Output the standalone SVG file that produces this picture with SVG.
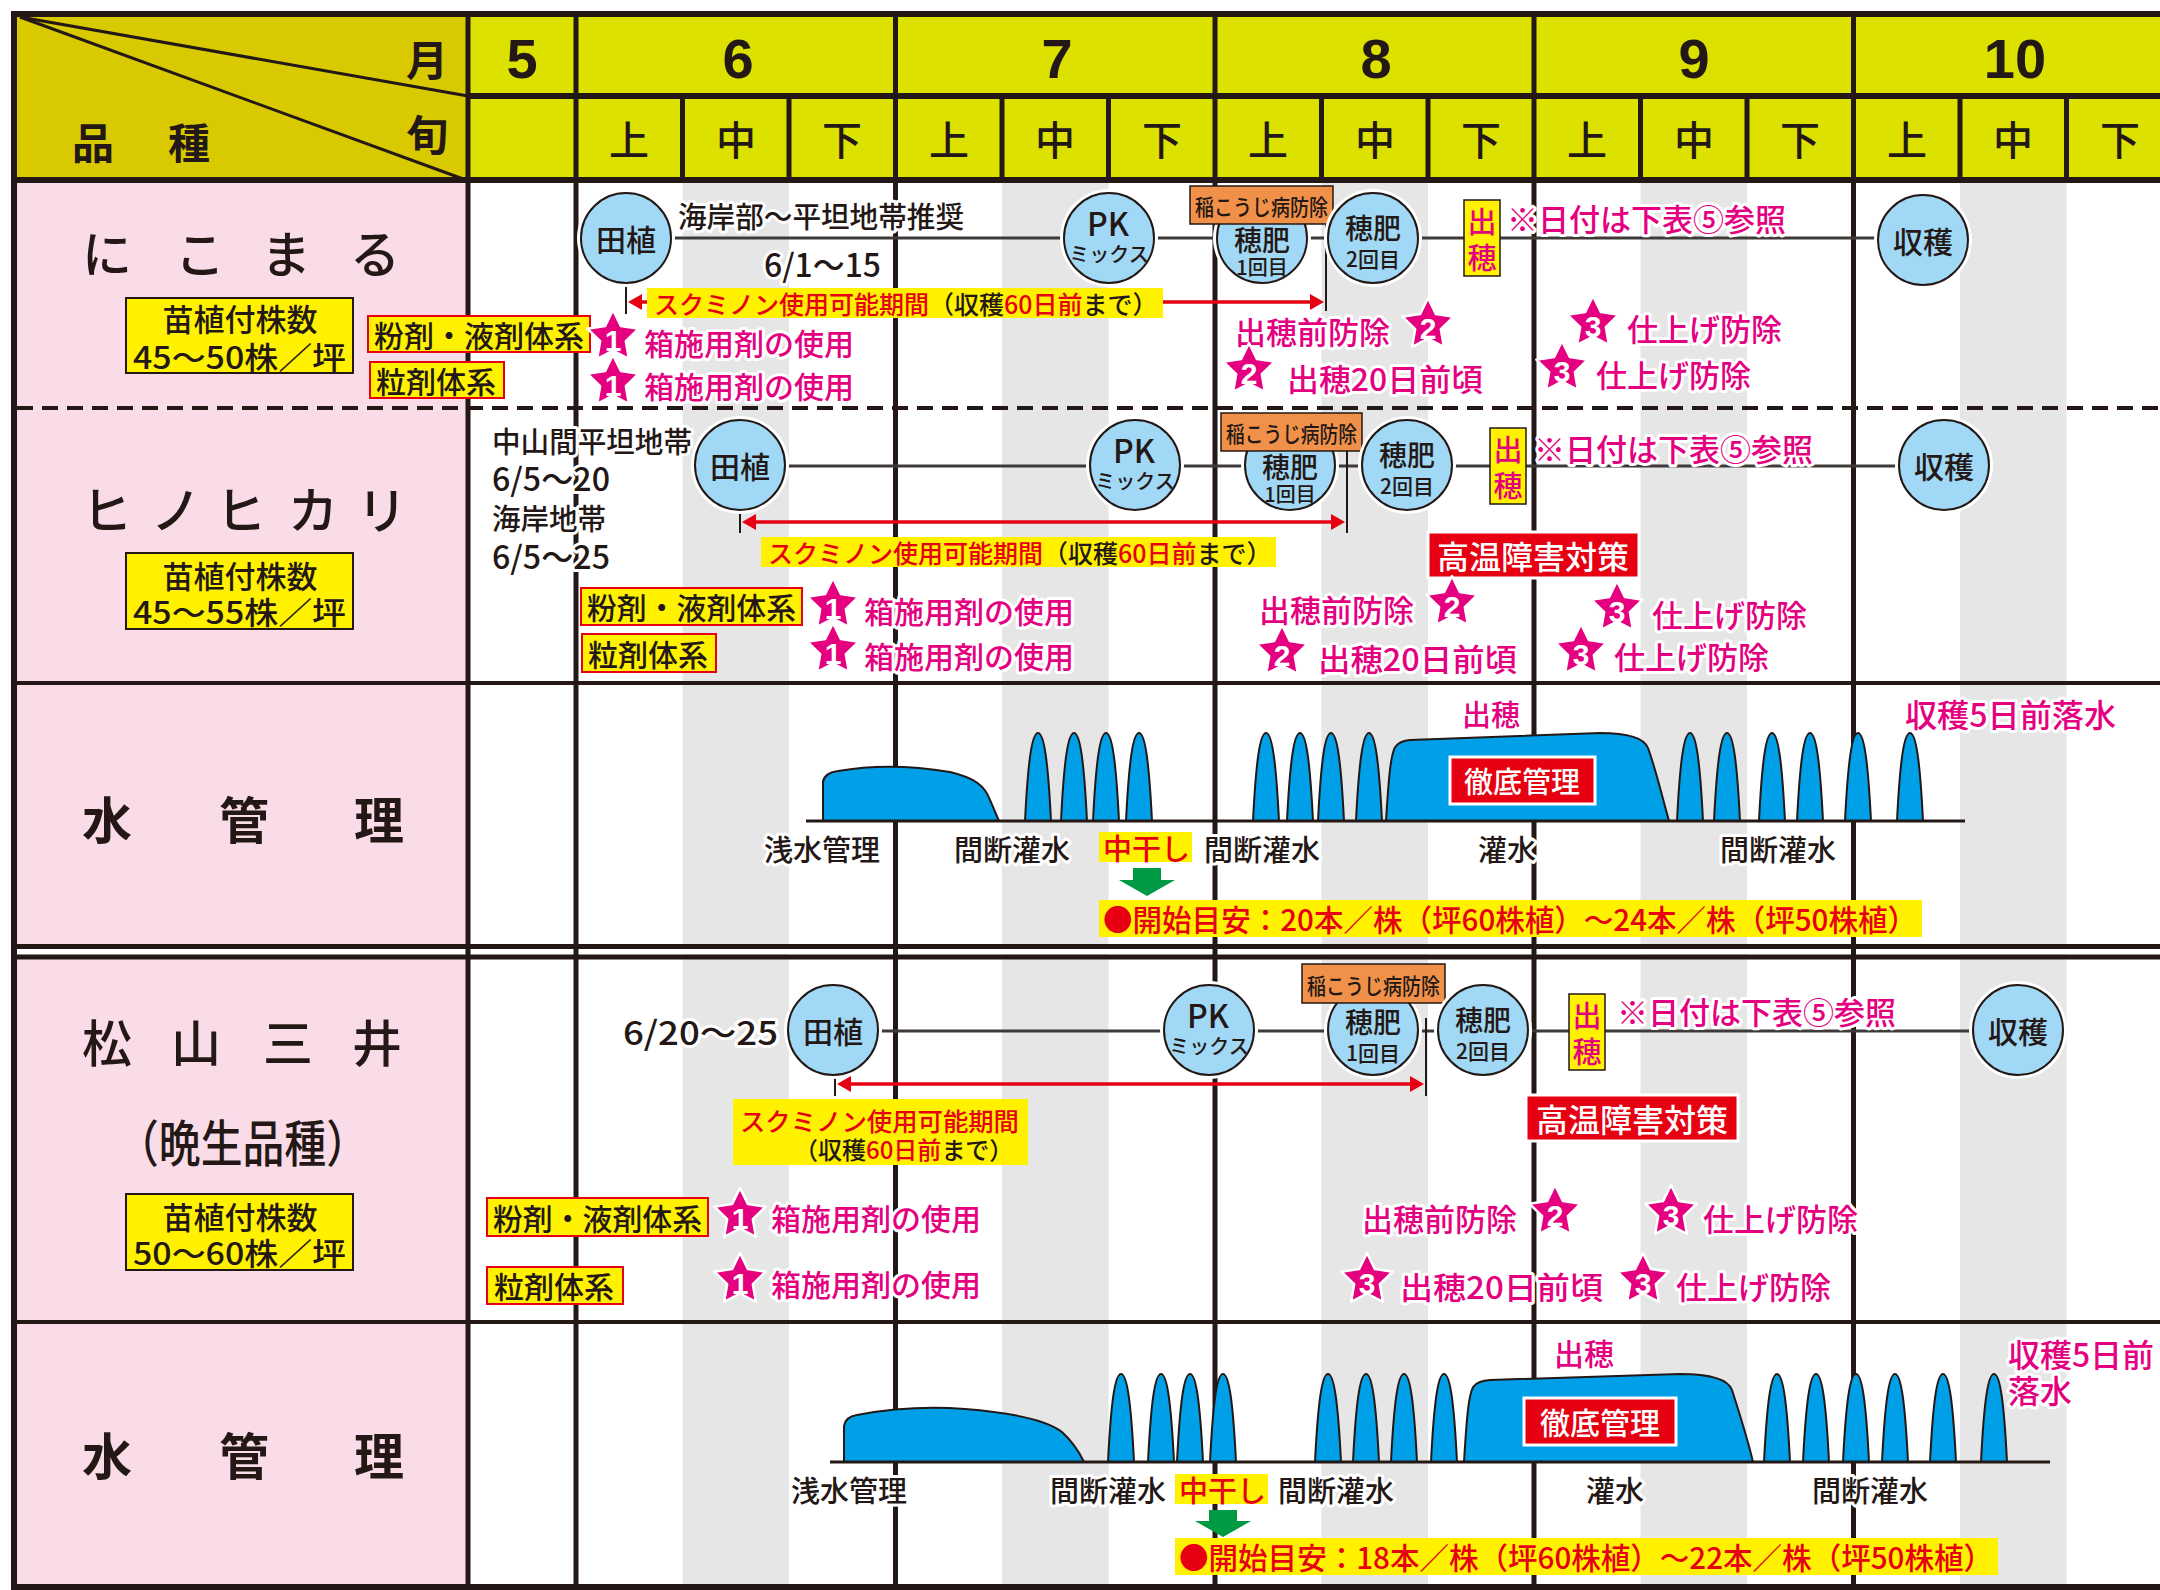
<svg xmlns="http://www.w3.org/2000/svg" xmlns:xlink="http://www.w3.org/1999/xlink" width="2160" height="1590" viewBox="0 0 2160 1590">
<style>
text{font-family:"Noto Sans CJK JP","Noto Sans",sans-serif;dominant-baseline:central;}
.k{fill:#231815;font-weight:500;}
.m{fill:#E4007F;font-weight:500;}
.h{stroke:#fff;stroke-width:6;stroke-linejoin:round;paint-order:stroke;}
.c{text-anchor:middle;}
.ttl{font-size:50px;fill:#231815;text-anchor:middle;font-weight:500;}
.ttb{font-size:50px;fill:#231815;text-anchor:middle;font-weight:700;}
.mon{font-family:"Liberation Sans",Arial,sans-serif;font-size:56px;font-weight:700;fill:#231815;text-anchor:middle;}
.jun{font-size:40px;font-weight:500;fill:#231815;text-anchor:middle;}
.ell{fill:#A0D8F5;stroke:#231815;stroke-width:2;}
.eh{fill:#fff;}
.yb{fill:#FFF100;stroke:#231815;stroke-width:2;}
.yr{fill:#FFF100;stroke:#E60012;stroke-width:2;}
.y{fill:#FFF100;}
.ob{fill:#F19149;stroke:#231815;stroke-width:1.5;}
.rb{fill:#E60012;stroke:#fff;stroke-width:3;}
.wt{fill:#00A0E9;stroke:#231815;stroke-width:2;}
.tl{stroke:#3E3A39;stroke-width:3;fill:none;}
.ar{stroke:#E60012;stroke-width:3.5;fill:none;}
.ah{fill:#E60012;}
.mk{stroke:#231815;stroke-width:2;fill:none;}
.g{fill:#231815;}
.gb{fill:#E6E6E6;}
.num{font-family:"Liberation Sans",Arial,sans-serif;font-size:30px;font-weight:700;fill:#fff;text-anchor:middle;}
.gr{fill:#009944;}
</style>
<defs>
<path id="star" d="M0,-27 L7.94,-10.92 L25.68,-8.34 L12.84,4.17 L15.87,21.84 L0,13.5 L-15.87,21.84 L-12.84,4.17 L-25.68,-8.34 L-7.94,-10.92 Z" fill="#E4007F" stroke="#fff" stroke-width="2.5" stroke-linejoin="round"/>
<path id="spk" class="wt" d="M-13,0 C-10,-60 -6,-88 0,-88 C6,-88 10,-60 13,0 Z"/>
</defs>

<g id="background">
<rect x="0" y="0" width="2160" height="1590" fill="#fff"/>
<rect x="14" y="14" width="454" height="166" fill="#D9C900"/>
<rect x="468" y="14" width="1692" height="166" fill="#DDE100"/>
<rect x="14" y="180" width="454" height="1410" fill="#FADCE9"/>
<rect class="gb" x="682.5" y="180" width="106.5" height="1410"/>
<rect class="gb" x="1002" y="180" width="106.5" height="1410"/>
<rect class="gb" x="1321.5" y="180" width="106.5" height="1410"/>
<rect class="gb" x="1640.5" y="180" width="106.5" height="1410"/>
<rect class="gb" x="1960" y="180" width="106.5" height="1410"/>
<rect x="14" y="948.5" width="2146" height="6" fill="#fff"/>
</g>

<g id="grid">
<rect class="g" x="11" y="11" width="2149" height="6"/>
<rect class="g" x="11" y="11" width="6" height="1579"/>
<rect class="g" x="466" y="93" width="1694" height="6"/>
<rect class="g" x="11" y="177" width="2149" height="6"/>
<line x1="17" y1="408" x2="2160" y2="408" stroke="#231815" stroke-width="4" stroke-dasharray="16 9"/>
<rect class="g" x="14" y="681" width="2146" height="4"/>
<rect class="g" x="14" y="944" width="2146" height="5"/>
<rect class="g" x="14" y="954.5" width="2146" height="5"/>
<rect class="g" x="14" y="1320" width="2146" height="4"/>
<rect class="g" x="11" y="1584" width="2149" height="6"/>
<rect class="g" x="465.5" y="14" width="5" height="1576"/>
<rect class="g" x="573.5" y="14" width="5" height="1576"/>
<rect class="g" x="893" y="14" width="5" height="1576"/>
<rect class="g" x="1212.5" y="14" width="5" height="1576"/>
<rect class="g" x="1531.5" y="14" width="5" height="1576"/>
<rect class="g" x="1851" y="14" width="5" height="1576"/>
<rect class="g" x="680" y="96" width="5" height="84"/>
<rect class="g" x="786.5" y="96" width="5" height="84"/>
<rect class="g" x="999.5" y="96" width="5" height="84"/>
<rect class="g" x="1106" y="96" width="5" height="84"/>
<rect class="g" x="1319" y="96" width="5" height="84"/>
<rect class="g" x="1425.5" y="96" width="5" height="84"/>
<rect class="g" x="1638" y="96" width="5" height="84"/>
<rect class="g" x="1744.5" y="96" width="5" height="84"/>
<rect class="g" x="1957.5" y="96" width="5" height="84"/>
<rect class="g" x="2064" y="96" width="5" height="84"/>
<line x1="20" y1="17" x2="468" y2="96" stroke="#231815" stroke-width="3"/>
<line x1="20" y1="17" x2="466" y2="180" stroke="#231815" stroke-width="3"/>
</g>

<g id="header">
<text x="427" y="57" font-size="42" font-weight="700" fill="#231815" text-anchor="middle">月</text>
<text x="427" y="132" font-size="42" font-weight="700" fill="#231815" text-anchor="middle">旬</text>
<text x="93" y="140" font-size="42" font-weight="700" fill="#231815" text-anchor="middle">品</text>
<text x="189" y="140" font-size="42" font-weight="700" fill="#231815" text-anchor="middle">種</text>
<text class="mon" x="522" y="58">5</text>
<text class="mon" x="738" y="58">6</text>
<text class="mon" x="1057" y="58">7</text>
<text class="mon" x="1376" y="58">8</text>
<text class="mon" x="1694" y="58">9</text>
<text class="mon" x="2015" y="58">10</text>
<text class="jun" x="629" y="138">上</text><text class="jun" x="736" y="138">中</text><text class="jun" x="842" y="138">下</text>
<text class="jun" x="949" y="138">上</text><text class="jun" x="1055" y="138">中</text><text class="jun" x="1162" y="138">下</text>
<text class="jun" x="1268" y="138">上</text><text class="jun" x="1375" y="138">中</text><text class="jun" x="1481" y="138">下</text>
<text class="jun" x="1587" y="138">上</text><text class="jun" x="1694" y="138">中</text><text class="jun" x="1800" y="138">下</text>
<text class="jun" x="1907" y="138">上</text><text class="jun" x="2013" y="138">中</text><text class="jun" x="2120" y="138">下</text>
</g>

<g id="connectors">
<line class="tl" x1="671" y1="238" x2="1879" y2="238"/>
<line class="tl" x1="785" y1="466" x2="1900" y2="466"/>
<line class="tl" x1="878" y1="1031" x2="1973" y2="1031"/>
<line class="mk" x1="626" y1="283" x2="626" y2="314"/>
<line class="mk" x1="1326" y1="224" x2="1326" y2="311"/>
<line class="mk" x1="740" y1="510" x2="740" y2="533"/>
<line class="mk" x1="1347" y1="451" x2="1347" y2="533"/>
<line class="mk" x1="835" y1="1075" x2="835" y2="1096"/>
<line class="mk" x1="1426" y1="1018" x2="1426" y2="1096"/>
<line class="ar" x1="640" y1="302" x2="1312" y2="302"/>
<polygon class="ah" points="628,302 642,294 642,310"/>
<polygon class="ah" points="1324,302 1310,294 1310,310"/>
<line class="ar" x1="754" y1="522" x2="1333" y2="522"/>
<polygon class="ah" points="742,522 756,514 756,530"/>
<polygon class="ah" points="1345,522 1331,514 1331,530"/>
<line class="ar" x1="849" y1="1084" x2="1412" y2="1084"/>
<polygon class="ah" points="837,1084 851,1076 851,1092"/>
<polygon class="ah" points="1424,1084 1410,1076 1410,1092"/>
</g>

<g id="row-nikomaru">
<text class="ttl" x="107" y="251">に</text><text class="ttl" x="200" y="251">こ</text><text class="ttl" x="286" y="251">ま</text><text class="ttl" x="375" y="251">る</text>
<rect class="yb" x="126" y="298" width="227" height="75"/>
<text class="k c" x="240" y="317" font-size="31">苗植付株数</text>
<text class="k" x="133" y="355" font-size="31" textLength="213" lengthAdjust="spacingAndGlyphs">45～50株／坪</text>
<rect class="yr" x="368" y="316" width="222" height="36"/>
<text class="k" x="374" y="334" font-size="30" textLength="210" lengthAdjust="spacingAndGlyphs">粉剤・液剤体系</text>
<rect class="yr" x="370" y="362" width="134" height="36"/>
<text class="k" x="376" y="380" font-size="30">粒剤体系</text>
<text class="k h" x="678" y="215" font-size="29" textLength="286" lengthAdjust="spacingAndGlyphs">海岸部～平坦地帯推奨</text>
<text class="k h" x="764" y="263" font-size="32" textLength="117" lengthAdjust="spacingAndGlyphs">6/1～15</text>
<rect class="y" x="647" y="288" width="516" height="30"/>
<text x="654" y="303" font-size="25" font-weight="500"><tspan fill="#E60012">スクミノン使用可能期間</tspan><tspan fill="#231815">（収穫</tspan><tspan fill="#E60012">60日前</tspan><tspan fill="#231815">まで）</tspan></text>
<g id="n1-taue"><circle class="eh" cx="626" cy="238" r="49"/><circle class="ell" cx="626" cy="238" r="45"/><text class="k c" x="626" y="238" font-size="30">田植</text></g>
<g id="n1-pk"><circle class="eh" cx="1109" cy="238" r="49"/><circle class="ell" cx="1109" cy="238" r="45"/><text class="k c" x="1108" y="222" font-size="32">PK</text><text class="k c" x="1109" y="253" font-size="20">ミックス</text></g>
<g id="n1-hohi1"><circle class="eh" cx="1262" cy="238" r="49"/><circle class="ell" cx="1262" cy="238" r="45"/><text class="k c" x="1262" y="239" font-size="28">穂肥</text><text class="k c" x="1262" y="266" font-size="20">1回目</text></g>
<g id="n1-inakouji"><rect class="ob" x="1190" y="186" width="143" height="38"/><text class="k" x="1195" y="205" font-size="22" textLength="133" lengthAdjust="spacingAndGlyphs">稲こうじ病防除</text></g>
<g id="n1-hohi2"><circle class="eh" cx="1373" cy="238" r="49"/><circle class="ell" cx="1373" cy="238" r="45"/><text class="k c" x="1373" y="227" font-size="28">穂肥</text><text class="k c" x="1373" y="258" font-size="21">2回目</text></g>
<g id="n1-shusui"><rect class="y" x="1464" y="200" width="36" height="76" stroke="#231815" stroke-width="1.5"/><text class="m c" x="1482" y="220" font-size="29">出</text><text class="m c" x="1482" y="256" font-size="29">穂</text></g>
<text class="m h" x="1507" y="217" font-size="31">※日付は下表⑤参照</text>
<g id="n1-shukaku"><circle class="eh" cx="1923" cy="240" r="49"/><circle class="ell" cx="1923" cy="240" r="45"/><text class="k c" x="1923" y="240" font-size="30">収穫</text></g>
<use href="#star" x="613" y="337"/><text class="num" x="613" y="340">1</text>
<text class="m h" x="644" y="342" font-size="30">箱施用剤の使用</text>
<use href="#star" x="613" y="382"/><text class="num" x="613" y="385">1</text>
<text class="m h" x="644" y="385" font-size="30">箱施用剤の使用</text>
<text class="m h" x="1235" y="330" font-size="31">出穂前防除</text>
<use href="#star" x="1428" y="325"/><text class="num" x="1428" y="328">2</text>
<use href="#star" x="1249" y="370"/><text class="num" x="1249" y="373">2</text>
<text class="m h" x="1287" y="377" font-size="31" textLength="196" lengthAdjust="spacingAndGlyphs">出穂20日前頃</text>
<use href="#star" x="1593" y="323"/><text class="num" x="1593" y="326">3</text>
<text class="m h" x="1627" y="327" font-size="31">仕上げ防除</text>
<use href="#star" x="1562" y="368"/><text class="num" x="1562" y="371">3</text>
<text class="m h" x="1596" y="373" font-size="31">仕上げ防除</text>
</g>

<g id="row-hinohikari">
<text class="ttl" x="107" y="507">ヒ</text><text class="ttl" x="176" y="507">ノ</text><text class="ttl" x="241" y="507">ヒ</text><text class="ttl" x="313" y="507">カ</text><text class="ttl" x="382" y="507">リ</text>
<rect class="yb" x="126" y="553" width="227" height="76"/>
<text class="k c" x="240" y="574" font-size="31">苗植付株数</text>
<text class="k" x="133" y="610" font-size="31" textLength="213" lengthAdjust="spacingAndGlyphs">45～55株／坪</text>
<text class="k h" x="492" y="440" font-size="29" textLength="200" lengthAdjust="spacingAndGlyphs">中山間平坦地帯</text>
<text class="k h" x="492" y="477" font-size="32" textLength="118" lengthAdjust="spacingAndGlyphs">6/5～20</text>
<text class="k h" x="492" y="517" font-size="29" textLength="114" lengthAdjust="spacingAndGlyphs">海岸地帯</text>
<text class="k h" x="492" y="555" font-size="32" textLength="118" lengthAdjust="spacingAndGlyphs">6/5～25</text>
<rect class="yr" x="581" y="588" width="221" height="37"/>
<text class="k" x="587" y="606" font-size="30" textLength="209" lengthAdjust="spacingAndGlyphs">粉剤・液剤体系</text>
<rect class="yr" x="582" y="634" width="134" height="38"/>
<text class="k" x="588" y="653" font-size="30">粒剤体系</text>
<rect class="y" x="761" y="537" width="515" height="30"/>
<text x="768" y="552" font-size="25" font-weight="500"><tspan fill="#E60012">スクミノン使用可能期間</tspan><tspan fill="#231815">（収穫</tspan><tspan fill="#E60012">60日前</tspan><tspan fill="#231815">まで）</tspan></text>
<g id="n2-taue"><circle class="eh" cx="740" cy="465" r="49"/><circle class="ell" cx="740" cy="465" r="45"/><text class="k c" x="740" y="465" font-size="30">田植</text></g>
<g id="n2-pk"><circle class="eh" cx="1135" cy="465" r="49"/><circle class="ell" cx="1135" cy="465" r="45"/><text class="k c" x="1134" y="449" font-size="32">PK</text><text class="k c" x="1135" y="480" font-size="20">ミックス</text></g>
<g id="n2-hohi1"><circle class="eh" cx="1290" cy="465" r="49"/><circle class="ell" cx="1290" cy="465" r="45"/><text class="k c" x="1290" y="466" font-size="28">穂肥</text><text class="k c" x="1290" y="493" font-size="20">1回目</text></g>
<g id="n2-inakouji"><rect class="ob" x="1221" y="413" width="141" height="38"/><text class="k" x="1226" y="432" font-size="22" textLength="131" lengthAdjust="spacingAndGlyphs">稲こうじ病防除</text></g>
<g id="n2-hohi2"><circle class="eh" cx="1407" cy="465" r="49"/><circle class="ell" cx="1407" cy="465" r="45"/><text class="k c" x="1407" y="454" font-size="28">穂肥</text><text class="k c" x="1407" y="485" font-size="21">2回目</text></g>
<g id="n2-shusui"><rect class="y" x="1490" y="428" width="36" height="76" stroke="#231815" stroke-width="1.5"/><text class="m c" x="1508" y="448" font-size="29">出</text><text class="m c" x="1508" y="484" font-size="29">穂</text></g>
<text class="m h" x="1534" y="447" font-size="31">※日付は下表⑤参照</text>
<g id="n2-shukaku"><circle class="eh" cx="1944" cy="465" r="49"/><circle class="ell" cx="1944" cy="465" r="45"/><text class="k c" x="1944" y="465" font-size="30">収穫</text></g>
<g id="n2-kouon"><rect class="rb" x="1428" y="532" width="211" height="46"/><text class="c" x="1533" y="555" font-size="32" font-weight="500" fill="#fff">高温障害対策</text></g>
<use href="#star" x="833" y="605"/><text class="num" x="833" y="608">1</text>
<text class="m h" x="864" y="610" font-size="30">箱施用剤の使用</text>
<use href="#star" x="833" y="650"/><text class="num" x="833" y="653">1</text>
<text class="m h" x="864" y="655" font-size="30">箱施用剤の使用</text>
<text class="m h" x="1259" y="608" font-size="31">出穂前防除</text>
<use href="#star" x="1452" y="603"/><text class="num" x="1452" y="606">2</text>
<use href="#star" x="1282" y="652"/><text class="num" x="1282" y="655">2</text>
<text class="m h" x="1318" y="657" font-size="31" textLength="199" lengthAdjust="spacingAndGlyphs">出穂20日前頃</text>
<use href="#star" x="1617" y="608"/><text class="num" x="1617" y="611">3</text>
<text class="m h" x="1652" y="613" font-size="31">仕上げ防除</text>
<use href="#star" x="1581" y="651"/><text class="num" x="1581" y="654">3</text>
<text class="m h" x="1614" y="655" font-size="31">仕上げ防除</text>
</g>

<g id="row-water1">
<text class="ttb" x="107" y="817">水</text><text class="ttb" x="244" y="817">管</text><text class="ttb" x="379" y="817">理</text>
<path class="wt" d="M823,821 L823,782 Q824,773 838,771 Q890,762 950,772 C975,778 985,786 990,800 L999,821 Z"/>
<use href="#spk" x="1038" y="821"/><use href="#spk" x="1074" y="821"/><use href="#spk" x="1106" y="821"/><use href="#spk" x="1139" y="821"/>
<use href="#spk" x="1266" y="821"/><use href="#spk" x="1300" y="821"/><use href="#spk" x="1331" y="821"/><use href="#spk" x="1369" y="821"/>
<path class="wt" d="M1386,821 C1388,790 1390,752 1396,746 Q1400,741 1410,740 L1600,733 Q1642,733 1648,748 C1656,770 1663,800 1669,821 Z"/>
<use href="#spk" x="1690" y="821"/><use href="#spk" x="1727" y="821"/><use href="#spk" x="1772" y="821"/><use href="#spk" x="1810" y="821"/><use href="#spk" x="1858" y="821"/><use href="#spk" x="1910" y="821"/>
<line x1="806" y1="821" x2="1965" y2="821" stroke="#231815" stroke-width="3"/>
<g id="w1-tettei"><rect class="rb" x="1450" y="757" width="145" height="47"/><text class="c" x="1522" y="780" font-size="29" font-weight="500" fill="#fff">徹底管理</text></g>
<text class="m h" x="1462" y="713" font-size="29">出穂</text>
<text class="m h" x="1905" y="713" font-size="32" textLength="211" lengthAdjust="spacingAndGlyphs">収穫5日前落水</text>
<text class="k h" x="764" y="848" font-size="29">浅水管理</text>
<text class="k h" x="954" y="848" font-size="29">間断灌水</text>
<rect class="y" x="1099" y="832" width="93" height="30"/>
<text x="1103" y="847" font-size="29" font-weight="500" fill="#E60012">中干し</text>
<text class="k h" x="1204" y="848" font-size="29">間断灌水</text>
<text class="k h" x="1478" y="848" font-size="29">灌水</text>
<text class="k h" x="1720" y="848" font-size="29">間断灌水</text>
<polygon class="gr" points="1133,868 1161,868 1161,880 1175,880 1147,896 1119,880 1133,880"/>
<rect class="y" x="1099" y="900" width="823" height="37"/>
<text x="1103" y="918" font-size="30" font-weight="500" fill="#E60012" textLength="814" lengthAdjust="spacingAndGlyphs">●開始目安：20本／株（坪60株植）～24本／株（坪50株植）</text>
</g>

<g id="row-matsuyama">
<text class="ttl" x="107" y="1040">松</text><text class="ttl" x="196" y="1040">山</text><text class="ttl" x="288" y="1040">三</text><text class="ttl" x="377" y="1040">井</text>
<text x="117" y="1140" font-size="50" font-weight="500" fill="#231815" textLength="251" lengthAdjust="spacingAndGlyphs">（晩生品種）</text>
<rect class="yb" x="126" y="1194" width="227" height="76"/>
<text class="k c" x="240" y="1215" font-size="31">苗植付株数</text>
<text class="k" x="133" y="1251" font-size="31" textLength="213" lengthAdjust="spacingAndGlyphs">50～60株／坪</text>
<text class="k h" x="623" y="1031" font-size="33" textLength="155" lengthAdjust="spacingAndGlyphs">6/20～25</text>
<rect class="yr" x="487" y="1198" width="221" height="38"/>
<text class="k" x="493" y="1217" font-size="30" textLength="209" lengthAdjust="spacingAndGlyphs">粉剤・液剤体系</text>
<rect class="yr" x="487" y="1267" width="136" height="37"/>
<text class="k" x="494" y="1285" font-size="30">粒剤体系</text>
<rect class="y" x="733" y="1099" width="295" height="66"/>
<text x="740" y="1120" font-size="25" font-weight="500" fill="#E60012" textLength="279" lengthAdjust="spacingAndGlyphs">スクミノン使用可能期間</text>
<text x="794" y="1148" font-size="24" font-weight="500"><tspan fill="#231815">（収穫</tspan><tspan fill="#E60012">60日前</tspan><tspan fill="#231815">まで）</tspan></text>
<g id="n3-taue"><circle class="eh" cx="833" cy="1030" r="49"/><circle class="ell" cx="833" cy="1030" r="45"/><text class="k c" x="833" y="1030" font-size="30">田植</text></g>
<g id="n3-pk"><circle class="eh" cx="1209" cy="1030" r="49"/><circle class="ell" cx="1209" cy="1030" r="45"/><text class="k c" x="1208" y="1014" font-size="32">PK</text><text class="k c" x="1209" y="1045" font-size="20">ミックス</text></g>
<g id="n3-hohi1"><circle class="eh" cx="1373" cy="1030" r="49"/><circle class="ell" cx="1373" cy="1030" r="45"/><text class="k c" x="1373" y="1021" font-size="28">穂肥</text><text class="k c" x="1373" y="1052" font-size="21">1回目</text></g>
<g id="n3-inakouji"><rect class="ob" x="1302" y="964" width="143" height="39"/><text class="k" x="1307" y="984" font-size="22" textLength="133" lengthAdjust="spacingAndGlyphs">稲こうじ病防除</text></g>
<g id="n3-hohi2"><circle class="eh" cx="1483" cy="1030" r="49"/><circle class="ell" cx="1483" cy="1030" r="45"/><text class="k c" x="1483" y="1019" font-size="28">穂肥</text><text class="k c" x="1483" y="1050" font-size="21">2回目</text></g>
<g id="n3-shusui"><rect class="y" x="1569" y="994" width="36" height="76" stroke="#231815" stroke-width="1.5"/><text class="m c" x="1587" y="1014" font-size="29">出</text><text class="m c" x="1587" y="1050" font-size="29">穂</text></g>
<text class="m h" x="1617" y="1010" font-size="31">※日付は下表⑤参照</text>
<g id="n3-shukaku"><circle class="eh" cx="2018" cy="1030" r="49"/><circle class="ell" cx="2018" cy="1030" r="45"/><text class="k c" x="2018" y="1030" font-size="30">収穫</text></g>
<g id="n3-kouon"><rect class="rb" x="1526" y="1095" width="212" height="46"/><text class="c" x="1632" y="1118" font-size="32" font-weight="500" fill="#fff">高温障害対策</text></g>
<use href="#star" x="740" y="1215"/><text class="num" x="740" y="1218">1</text>
<text class="m h" x="771" y="1217" font-size="30">箱施用剤の使用</text>
<use href="#star" x="740" y="1280"/><text class="num" x="740" y="1283">1</text>
<text class="m h" x="771" y="1283" font-size="30">箱施用剤の使用</text>
<text class="m h" x="1362" y="1217" font-size="31">出穂前防除</text>
<use href="#star" x="1555" y="1212"/><text class="num" x="1555" y="1215">2</text>
<use href="#star" x="1671" y="1212"/><text class="num" x="1671" y="1215">3</text>
<text class="m h" x="1703" y="1217" font-size="31">仕上げ防除</text>
<use href="#star" x="1367" y="1280"/><text class="num" x="1367" y="1283">3</text>
<text class="m h" x="1400" y="1285" font-size="31" textLength="203" lengthAdjust="spacingAndGlyphs">出穂20日前頃</text>
<use href="#star" x="1643" y="1280"/><text class="num" x="1643" y="1283">3</text>
<text class="m h" x="1676" y="1285" font-size="31">仕上げ防除</text>
</g>

<g id="row-water2">
<text class="ttb" x="107" y="1453">水</text><text class="ttb" x="244" y="1453">管</text><text class="ttb" x="379" y="1453">理</text>
<path class="wt" d="M844,1462 L844,1426 Q845,1417 857,1415 Q910,1405 965,1409 Q1040,1415 1062,1432 Q1076,1445 1084,1462 Z"/>
<use href="#spk" x="1121" y="1462"/><use href="#spk" x="1161" y="1462"/><use href="#spk" x="1190" y="1462"/><use href="#spk" x="1223" y="1462"/>
<use href="#spk" x="1328" y="1462"/><use href="#spk" x="1366" y="1462"/><use href="#spk" x="1404" y="1462"/><use href="#spk" x="1444" y="1462"/>
<path class="wt" d="M1464,1462 C1466,1430 1468,1392 1474,1386 Q1478,1381 1490,1380 L1680,1374 Q1726,1374 1732,1390 C1740,1415 1748,1440 1753,1462 Z"/>
<use href="#spk" x="1777" y="1462"/><use href="#spk" x="1816" y="1462"/><use href="#spk" x="1856" y="1462"/><use href="#spk" x="1895" y="1462"/><use href="#spk" x="1943" y="1462"/><use href="#spk" x="1994" y="1462"/>
<line x1="830" y1="1462" x2="2050" y2="1462" stroke="#231815" stroke-width="3"/>
<g id="w2-tettei"><rect class="rb" x="1524" y="1398" width="152" height="47"/><text class="c" x="1600" y="1421" font-size="30" font-weight="500" fill="#fff">徹底管理</text></g>
<text class="m h" x="1554" y="1352" font-size="30">出穂</text>
<text class="m h" x="2008" y="1353" font-size="32" textLength="146" lengthAdjust="spacingAndGlyphs">収穫5日前</text>
<text class="m h" x="2008" y="1389" font-size="32">落水</text>
<text class="k h" x="791" y="1489" font-size="29">浅水管理</text>
<text class="k h" x="1050" y="1489" font-size="29">間断灌水</text>
<rect class="y" x="1175" y="1474" width="93" height="30"/>
<text x="1179" y="1489" font-size="29" font-weight="500" fill="#E60012">中干し</text>
<text class="k h" x="1278" y="1489" font-size="29">間断灌水</text>
<text class="k h" x="1586" y="1489" font-size="29">灌水</text>
<text class="k h" x="1812" y="1489" font-size="29">間断灌水</text>
<polygon class="gr" points="1209,1510 1237,1510 1237,1521 1251,1521 1223,1537 1195,1521 1209,1521"/>
<rect class="y" x="1175" y="1538" width="823" height="37"/>
<text x="1179" y="1556" font-size="30" font-weight="500" fill="#E60012" textLength="814" lengthAdjust="spacingAndGlyphs">●開始目安：18本／株（坪60株植）～22本／株（坪50株植）</text>
</g>
</svg>
